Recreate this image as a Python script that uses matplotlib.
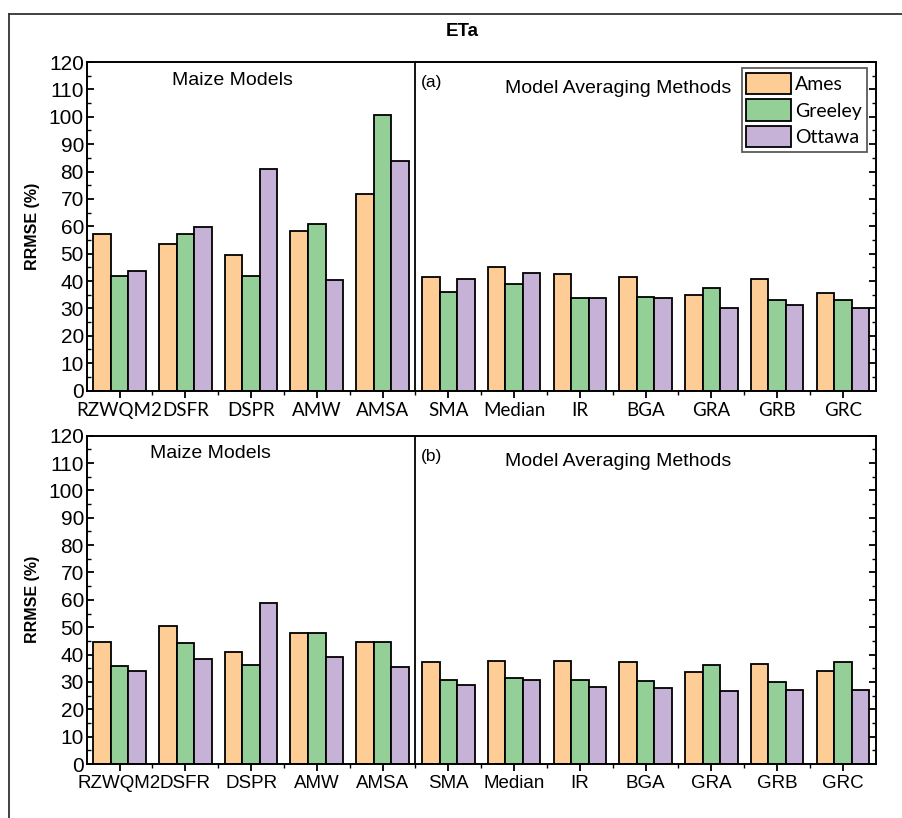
import matplotlib
matplotlib.use('Agg')
import matplotlib.pyplot as plt
from matplotlib.patches import Patch
from matplotlib.ticker import MultipleLocator, FixedLocator
import numpy as np

plt.rcParams['font.family'] = ['Liberation Sans', 'DejaVu Sans']

# Categories: five maize models then seven model averaging methods
categories = ['RZWQM2', 'DSFR', 'DSPR', 'AMW', 'AMSA',
              'SMA', 'Median', 'IR', 'BGA', 'GRA', 'GRB', 'GRC']
sites = ['Ames', 'Greeley', 'Ottawa']
colors = ['#FECC95', '#93CF96', '#C6B1D7']

# (a) RRMSE (%) per site
a_ames = [57.0, 53.6, 49.5, 58.4, 71.9, 41.3, 45.2, 42.4, 41.3, 34.9, 40.8, 35.7]
a_greeley = [42.0, 57.3, 42.0, 61.0, 100.6, 35.9, 39.0, 33.8, 34.2, 37.4, 33.0, 33.0]
a_ottawa = [43.5, 59.7, 81.0, 40.5, 83.8, 40.8, 43.0, 33.8, 33.8, 30.3, 31.4, 30.3]

# (b) RRMSE (%) per site
b_ames = [44.7, 50.4, 41.0, 48.0, 44.7, 37.4, 37.8, 37.8, 37.4, 33.5, 36.7, 34.1]
b_greeley = [35.8, 44.1, 36.2, 48.0, 44.7, 30.8, 31.5, 30.8, 30.3, 36.2, 29.8, 37.4]
b_ottawa = [34.0, 38.2, 58.7, 39.0, 35.6, 28.7, 30.8, 28.1, 27.8, 26.6, 26.9, 26.9]

fig = plt.figure(figsize=(9.03, 8.18), dpi=100)

# outer frame and title
fig.add_artist(plt.Line2D([0.010, 0.010], [0.0, 0.983], color='#333333', lw=1.3, transform=fig.transFigure))
fig.add_artist(plt.Line2D([0.010, 1.0], [0.983, 0.983], color='#333333', lw=1.3, transform=fig.transFigure))
fig.text(0.512, 0.961, 'ETa', ha='center', va='center', fontsize=13.5, fontweight='bold')

ax_top = fig.add_axes([0.096, 0.5226, 0.8738, 0.4016])
ax_bot = fig.add_axes([0.096, 0.066, 0.8738, 0.4014])

x = np.arange(len(categories))
w = 0.267


def draw(ax, series, tick_font, panel, maize_x):
    for i, (vals, c, name) in enumerate(zip(series, colors, sites)):
        ax.bar(x + (i - 1) * w, vals, width=w, color=c, edgecolor='black',
               linewidth=1.3, label=name, zorder=2)
    ax.set_xlim(-0.5, 11.5)
    ax.set_ylim(0, 120)
    ax.axvline(4.5, color='black', lw=1.3, zorder=3)
    ax.yaxis.set_major_locator(MultipleLocator(10))
    ax.yaxis.set_minor_locator(MultipleLocator(5))
    ax.xaxis.set_major_locator(FixedLocator(x))
    ax.xaxis.set_minor_locator(FixedLocator(x[:-1] + 0.5))
    ax.set_xticklabels(categories, fontsize=13.5, family=tick_font)
    ax.tick_params(axis='y', which='both', direction='in', right=True, labelsize=15, pad=2)
    ax.tick_params(axis='y', which='major', length=5, width=1.3)
    ax.tick_params(axis='y', which='minor', length=3, width=1)
    ax.tick_params(axis='x', which='major', direction='out', length=5, width=1.3, pad=3)
    ax.tick_params(axis='x', which='minor', direction='out', length=3, width=1)
    for s in ax.spines.values():
        s.set_linewidth(1.4)
    ax.set_ylabel('RRMSE (%)', fontsize=11.5, fontweight='bold', labelpad=6)
    ax.text(maize_x, 113.3, 'Maize Models', ha='center', va='center', fontsize=14)
    ax.text(4.58, 112.5, panel, ha='left', va='center', fontsize=12.5)
    ax.text(7.58, 110.5, 'Model Averaging Methods', ha='center', va='center', fontsize=14)


draw(ax_top, [a_ames, a_greeley, a_ottawa], ['Lato', 'DejaVu Sans'], '(a)', 1.72)
draw(ax_bot, [b_ames, b_greeley, b_ottawa], ['Liberation Sans', 'DejaVu Sans'], '(b)', 1.38)

handles = [Patch(facecolor=c, edgecolor='black', linewidth=1.3) for c in colors]
leg = ax_top.legend(handles, sites, loc='upper right', bbox_to_anchor=(0.9885, 0.982),
                    prop={'family': ['Lato', 'DejaVu Sans'], 'size': 14},
                    frameon=True, fancybox=False, edgecolor='#333333',
                    handlelength=2.3, handleheight=1.3, handletextpad=0.2,
                    labelspacing=0.28, borderpad=0.25, borderaxespad=0)
leg.get_frame().set_linewidth(1.3)

fig.savefig('out.png', dpi=100)
